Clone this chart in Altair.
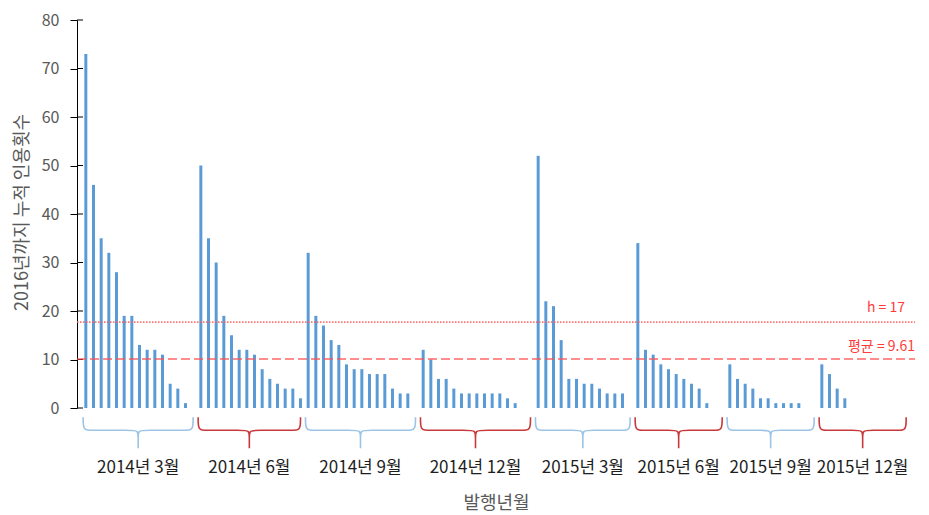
import altair as alt
import pandas as pd

# ---------------- data ----------------
group_labels = ["2014년 3월", "2014년 6월", "2014년 9월", "2014년 12월",
                "2015년 3월", "2015년 6월", "2015년 9월", "2015년 12월"]
group_slots = [15, 14, 15, 15, 13, 12, 12, 12]
g1 = [73, 46, 35, 32, 28, 19, 19, 13, 12, 12, 11, 5, 4, 1]
g2 = [50, 35, 30, 19, 15, 12, 12, 11, 8, 6, 5, 4, 4, 2]
g3 = [32, 19, 17, 14, 13, 9, 8, 8, 7, 7, 7, 4, 3, 3]
g4 = [12, 10, 6, 6, 4, 3, 3, 3, 3, 3, 3, 2, 1]
g5 = [52, 22, 21, 14, 6, 6, 5, 5, 4, 3, 3, 3]
g6 = [34, 12, 11, 9, 8, 7, 6, 5, 4, 1]
g7 = [9, 6, 5, 4, 2, 2, 1, 1, 1, 1]
g8 = [9, 7, 4, 2]
group_values = [g1, g2, g3, g4, g5, g6, g7, g8]
y_ticks = [0, 10, 20, 30, 40, 50, 60, 70, 80]
h_label = "h = 17"
mean_label = "평균 = 9.61"
h_level = 17.7      # drawn position
mean_level = 10.1   # drawn position

BLUE = "#5B9BD5"
BRACE_COLORS = ["#9DC3E6", "#C8393B"]

# ---------------- tables ----------------
bars = []
brace_pts = []
labels = []
start = 0
for gi, (lab, n, vals) in enumerate(zip(group_labels, group_slots, group_values)):
    for k, v in enumerate(vals):
        bars.append({"slot": start + k, "cites": v, "group": lab})
    L = start - 0.5 + 0.15
    R = start + n - 0.5 - 0.5
    M = (L + R) / 2
    top, mid, tip = -1.9, -4.6, -8.3
    pts = [(L, top), (L, top), (L, mid), (L + 0.9, mid),
           (M - 0.9, mid), (M, mid), (M, -6.2), (M, tip), (M, tip), (M, tip),
           (M, -6.2), (M, mid), (M + 0.9, mid), (R - 0.9, mid), (R, mid),
           (R, top), (R, top)]
    for o, (px, py) in enumerate(pts):
        brace_pts.append({"bid": gi, "o": o, "bx": px, "by": py,
                          "c": BRACE_COLORS[gi % 2]})
    labels.append({"lx": M, "ly": -12.3, "text": lab})
    start += n

total_slots = start
bars_df = pd.DataFrame(bars)
brace_df = pd.DataFrame(brace_pts)
labels_df = pd.DataFrame(labels)
ticks_df = pd.DataFrame({"t": y_ticks})

xscale = alt.Scale(domain=[-0.5, total_slots - 0.5], nice=False, zero=False)
yscale = alt.Scale(domain=[0, 80], nice=False)

x_axis = alt.Axis(labels=False, ticks=False, domain=False, grid=False,
                  title="발행년월", titleColor="#595959", titleFontSize=18,
                  titleFontWeight="normal", titleY=95, titleBaseline="middle")
y_axis = alt.Axis(values=y_ticks, tickSize=7, tickColor="black", domainColor="black",
                  labelColor="#595959", labelFontSize=16, labelPadding=11, grid=False,
                  title="2016년까지 누적 인용횟수", titleColor="#595959", titleFontSize=18,
                  titleFontWeight="normal", titleX=-55, titleY=192, titleAngle=270,
                  titleBaseline="middle", titleAlign="center")

bar_layer = alt.Chart(bars_df).mark_bar(size=3, color=BLUE).encode(
    x=alt.X("slot:Q", scale=xscale, axis=x_axis),
    y=alt.Y("cites:Q", scale=yscale, axis=y_axis),
)

inner_ticks = alt.Chart(ticks_df).mark_rule(color="black", strokeWidth=1).encode(
    y=alt.Y("t:Q", scale=yscale),
    x=alt.value(0), x2=alt.value(6),
)

ref_df = pd.DataFrame({"lvl": [h_level, mean_level], "kind": ["h", "mean"]})
h_line = alt.Chart(ref_df[ref_df.kind == "h"]).mark_rule(
    color="#FF5A5A", strokeWidth=1.8, strokeDash=[1.5, 1.5], opacity=0.85).encode(
    y=alt.Y("lvl:Q", scale=yscale), x=alt.value(0), x2=alt.value(838))
mean_line = alt.Chart(ref_df[ref_df.kind == "mean"]).mark_rule(
    color="#FF4D4D", strokeWidth=1.6, strokeDash=[9, 4], opacity=0.85).encode(
    y=alt.Y("lvl:Q", scale=yscale), x=alt.value(0), x2=alt.value(838))

lbl_df = pd.DataFrame({"lvl": [h_level, mean_level], "text": [h_label, mean_label]})
h_text = alt.Chart(lbl_df.iloc[[0]]).mark_text(
    align="right", baseline="middle", dy=-14, fontSize=14, color="#FF3B3B").encode(
    y=alt.Y("lvl:Q", scale=yscale), x=alt.value(828), text="text:N")
mean_text = alt.Chart(lbl_df.iloc[[1]]).mark_text(
    align="right", baseline="middle", dy=-12.5, fontSize=14, color="#FF3B3B").encode(
    y=alt.Y("lvl:Q", scale=yscale), x=alt.value(838), text="text:N")

braces = alt.Chart(brace_df).mark_line(interpolate="basis", strokeWidth=1.6).encode(
    x=alt.X("bx:Q", scale=xscale),
    y=alt.Y("by:Q", scale=yscale),
    order="o:Q",
    detail="bid:N",
    color=alt.Color("c:N", scale=None),
)

group_text = alt.Chart(labels_df).mark_text(
    baseline="middle", fontSize=17, color="#1E1E1E").encode(
    x=alt.X("lx:Q", scale=xscale),
    y=alt.Y("ly:Q", scale=yscale),
    text="text:N",
)

chart = alt.layer(
    bar_layer, inner_ticks, h_line, mean_line, h_text, mean_text, braces, group_text
).properties(
    width=838, height=388,
    autosize=alt.AutoSizeParams(type="none"),
    padding={"left": 69, "top": 12, "right": 6, "bottom": 106},
).configure(font="Noto Sans CJK KR").configure_view(strokeWidth=0)

chart.save("out.html", embed_options={"renderer": "svg", "actions": False})
